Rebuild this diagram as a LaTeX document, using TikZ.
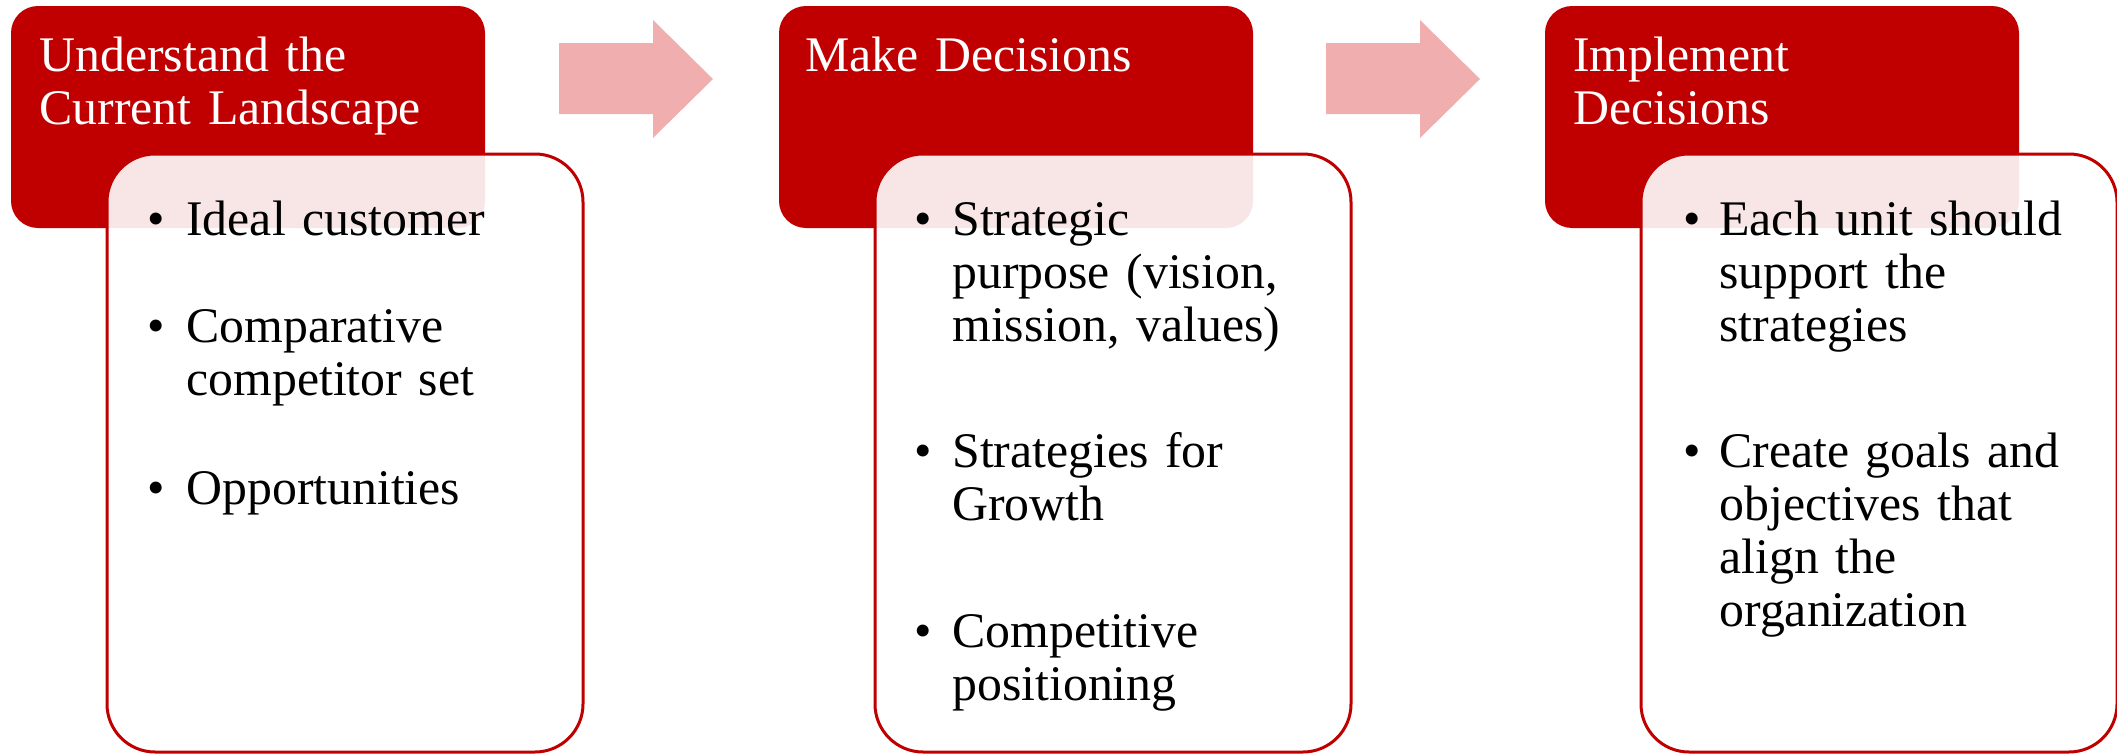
\documentclass[tikz,border=0pt]{standalone}
\usepackage{fontspec}
\setmainfont{Liberation Serif}
\usepackage{tikz}

\definecolor{headred}{RGB}{192,0,0}
\definecolor{arrowpink}{RGB}{241,174,174}
\newcommand{\boxfont}{\fontsize{24.9}{26.5}\selectfont\spaceskip=0.17em plus 0.05em}

\tikzset{
	headbox/.style={fill=headred, rounded corners=13.5pt},
	listbox/.style={draw=headred, line width=1.5pt, fill=white, fill opacity=0.9, rounded corners=24pt},
	flowarrow/.style={fill=arrowpink},
	headtext/.style={anchor=base west, inner sep=0pt, text=white, text width=235pt, align=left, font=\boxfont},
	itemtext/.style={anchor=base west, inner sep=0pt, text width=200pt, align=left, font=\boxfont},
	bulletmark/.style={anchor=base, inner sep=0pt, font=\boxfont}
}

\begin{document}
\begin{tikzpicture}[x=0.5pt, y=-0.5pt]
				\useasboundingbox (0,0) rectangle (2117,755);
				%red headers and the list boxes over them
				\foreach \x in {0,768,1534} {
					\fill[headbox] (11+\x,6) rectangle (485+\x,228);
					\draw[listbox] (107+\x,154) rectangle (583+\x,752);
				}
				%block arrows between the steps
				\foreach \x in {0,767}
					\fill[flowarrow] (559+\x,43) -- (653+\x,43) -- (653+\x,20) -- (713+\x,79) -- (653+\x,138) -- (653+\x,114) -- (559+\x,114) -- cycle;
				%step titles
				\node[headtext] (understand) at (39,71) {Understand the\\Current Landscape};
				\node[headtext] (make) at (805,71) {Make Decisions};
				\node[headtext] (implement) at (1573,71) {Implement\\Decisions};
				%first list
				\node[bulletmark] (ideal-dot) at (156,235) {\textbullet};
				\node[itemtext] (ideal) at (186,235) {Ideal customer};
				\node[bulletmark] (compare-dot) at (156,342) {\textbullet};
				\node[itemtext] (compare) at (186,342) {Comparative\\competitor set};
				\node[bulletmark] (opport-dot) at (156,504) {\textbullet};
				\node[itemtext] (opport) at (186,504) {Opportunities};
				%second list
				\node[bulletmark] (purpose-dot) at (923,235) {\textbullet};
				\node[itemtext] (purpose) at (952,235) {Strategic\\purpose (vision,\\mission, values)};
				\node[bulletmark] (growth-dot) at (923,467) {\textbullet};
				\node[itemtext] (growth) at (952,467) {Strategies for\\Growth};
				\node[bulletmark] (position-dot) at (923,647) {\textbullet};
				\node[itemtext] (position) at (952,647) {Competitive\\positioning};
				%third list
				\node[bulletmark] (support-dot) at (1692,235) {\textbullet};
				\node[itemtext] (support) at (1719,235) {Each unit should\\support the\\strategies};
				\node[bulletmark] (goals-dot) at (1692,467) {\textbullet};
				\node[itemtext] (goals) at (1719,467) {Create goals and\\objectives that\\align the\\organization};
			\end{tikzpicture}
\end{document}
